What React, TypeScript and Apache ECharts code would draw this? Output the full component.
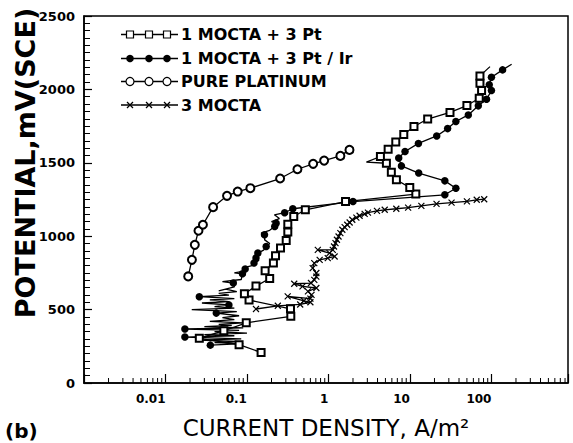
import React, { useEffect, useRef } from 'react';
import * as echarts from 'echarts';

// ---- Data (current density A/m², potential mV SCE) ----
const PT3_X = [0.149, 0.080, 0.026, 0.052, 0.098, 0.345, 0.342, 0.106, 0.093, 0.129, 0.19, 0.167, 0.211, 0.224, 0.258, 0.303, 0.317, 0.317, 0.375, 0.52, 1.62, 11.8, 9.95, 6.82, 5.91, 5.14, 2.92, 4.34, 5.4, 6.7, 8.4, 11.2, 16.5, 31, 50, 70.8, 75.7, 72.3, 72.3, 96];
const PT3_Y = [208, 261, 304, 356, 410, 454, 505, 565, 608, 660, 712, 765, 817, 867, 919, 971, 1028, 1082, 1134, 1180, 1236, 1287, 1332, 1384, 1436, 1497, 1504, 1543, 1593, 1641, 1692, 1747, 1798, 1843, 1890, 1940, 1992, 2042, 2092, 2155];
const PT3_TRACE_ONLY = [26, 39]; // points of the trace that carry no marker

const PTIR_X = [0.0355, 0.09, 0.04, 0.075, 0.025, 0.085, 0.0173, 0.07, 0.03, 0.1, 0.04, 0.08, 0.0173, 0.09, 0.03, 0.065, 0.045, 0.09, 0.035, 0.07, 0.05, 0.08, 0.042, 0.075, 0.021, 0.07, 0.04, 0.06, 0.028, 0.06, 0.035, 0.07, 0.026, 0.06, 0.045, 0.075, 0.055, 0.045, 0.07, 0.068, 0.05, 0.085, 0.088, 0.07, 0.1, 0.095, 0.09, 0.115, 0.122, 0.14, 0.129, 0.12, 0.136, 0.16, 0.172, 0.19, 0.165, 0.164, 0.149, 0.19, 0.219, 0.228, 0.2, 0.25, 0.217, 0.29, 0.365, 2.0, 26.8, 36.6, 26.8, 12.8, 7.86, 7.28, 8.7, 12.7, 21.3, 29, 36.6, 52, 69, 87, 100, 94, 100, 137, 177];
const PTIR_Y = [258, 268, 276, 284, 292, 300, 313, 322, 330, 340, 350, 358, 368, 376, 384, 392, 400, 410, 420, 432, 445, 458, 476, 486, 500, 510, 520, 532, 545, 555, 566, 575, 588, 598, 610, 622, 640, 628, 655, 681, 690, 705, 744, 750, 765, 776, 785, 800, 817, 835, 851, 860, 885, 905, 930, 950, 975, 1010, 1021, 1040, 1066, 1089, 1100, 1120, 1146, 1160, 1187, 1236, 1282, 1327, 1377, 1430, 1479, 1532, 1577, 1632, 1683, 1733, 1781, 1826, 1888, 1933, 1992, 2031, 2083, 2133, 2171];
const PTIR_DOT_IDX = [0, 6, 12, 22, 27, 32, 39, 42, 45, 48, 50, 52, 54, 57, 60, 61, 65, 66, 67, 68, 69, 70, 71, 72, 73, 74, 75, 76, 77, 78, 79, 80, 81, 82, 83, 84, 85];

const PURE_X = [0.019, 0.0211, 0.0229, 0.0254, 0.0288, 0.0384, 0.0569, 0.0769, 0.110, 0.255, 0.416, 0.649, 0.885, 1.40, 1.81];
const PURE_Y = [726, 839, 941, 1037, 1078, 1198, 1275, 1304, 1327, 1393, 1456, 1493, 1515, 1547, 1588];

const MOCTA3_X = [0.129, 0.239, 0.45, 0.60, 0.50, 0.316, 0.60, 0.62, 0.56, 0.71, 0.48, 0.38, 0.61, 0.67, 0.71, 0.71, 0.64, 0.67, 0.78, 0.98, 1.19, 1.03, 0.74, 1.13, 1.17, 1.22, 1.27, 1.33, 1.40, 1.48, 1.58, 1.70, 1.82, 1.96, 2.20, 2.41, 2.78, 3.05, 3.94, 4.9, 6.8, 9.5, 13.8, 21.2, 32.4, 50, 66, 81.5];
const MOCTA3_Y = [504, 526, 535, 550, 560, 590, 575, 600, 624, 647, 658, 676, 681, 703, 725, 749, 783, 817, 839, 851, 862, 885, 907, 907, 930, 953, 976, 998, 1021, 1044, 1062, 1078, 1093, 1112, 1127, 1139, 1152, 1161, 1173, 1180, 1187, 1195, 1207, 1220, 1229, 1237, 1248, 1252];

const LEGEND_LABELS = ['1 MOCTA + 3 Pt', '1 MOCTA + 3 Pt / Ir', 'PURE PLATINUM', '3 MOCTA'];
const X_TICK_LABELS = ['0.01', '0.1', '1', '10', '100'];
const X_TICK_EXP = [-2, -1, 0, 1, 2];
const X_MIN = 0.001;
const X_MAX = 870;
const Y_MIN = 0;
const Y_MAX = 2500;
const Y_STEP = 500;
const MINOR_MULTS = [2, 3, 4, 5, 6, 7, 8, 9];
const X_NAME = 'CURRENT DENSITY, A/m²';
const Y_NAME = 'POTENTIAL,mV(SCE)';
const PANEL = '(b)';

const FONT = 'DejaVu Sans';

export default function App() {
  const ref = useRef<HTMLDivElement>(null);
  useEffect(() => {
    if (!ref.current) return;
    const chart = echarts.init(ref.current, undefined, { renderer: 'svg' });

    // minor tick values of the log axis (2..9 in each decade)
    const minorVals: number[][] = [];
    for (let d = Math.floor(Math.log10(X_MIN)); d < Math.ceil(Math.log10(X_MAX)); d++) {
      for (const m of MINOR_MULTS) {
        const v = m * Math.pow(10, d);
        if (v > X_MIN && v < X_MAX) minorVals.push([v, Y_MIN]);
      }
    }

    const pt3Data = PT3_X.map((x, i) =>
      PT3_TRACE_ONLY.includes(i) ? { value: [x, PT3_Y[i]], symbol: 'none' } : [x, PT3_Y[i]]
    );
    const ptirData = PTIR_X.map((x, i) =>
      PTIR_DOT_IDX.includes(i) ? [x, PTIR_Y[i]] : { value: [x, PTIR_Y[i]], symbol: 'none' }
    );
    const pureData = PURE_X.map((x, i) => [x, PURE_Y[i]]);
    const m3Data = MOCTA3_X.map((x, i) => [x, MOCTA3_Y[i]]);

    // legend drawn as graphic: line + three markers + text
    const rows = [34.5, 58.5, 81.5, 105];
    const kinds = ['rect', 'dot', 'ring', 'cross'];
    const mx = [130, 149, 167];
    const marker = (kind: string, cx: number, cy: number): any => {
      if (kind === 'rect')
        return { type: 'rect', shape: { x: cx - 3.5, y: cy - 3.5, width: 7, height: 7 }, style: { fill: '#fff', stroke: '#000', lineWidth: 1.2 } };
      if (kind === 'dot') return { type: 'circle', shape: { cx, cy, r: 3.8 }, style: { fill: '#000' } };
      if (kind === 'ring')
        return { type: 'circle', shape: { cx, cy, r: 4 }, style: { fill: '#fff', stroke: '#000', lineWidth: 1.2 } };
      return {
        type: 'group',
        children: [
          { type: 'line', shape: { x1: cx - 3, y1: cy - 3, x2: cx + 3, y2: cy + 3 }, style: { stroke: '#000', lineWidth: 1.3 } },
          { type: 'line', shape: { x1: cx - 3, y1: cy + 3, x2: cx + 3, y2: cy - 3 }, style: { stroke: '#000', lineWidth: 1.3 } },
        ],
      };
    };
    const gEls: any[] = [];
    LEGEND_LABELS.forEach((label, i) => {
      const y = rows[i];
      gEls.push({ type: 'line', shape: { x1: 121, y1: y, x2: 178, y2: y }, style: { stroke: '#000', lineWidth: 1.3 } });
      mx.forEach((x) => gEls.push(marker(kinds[i], x, y)));
      gEls.push({
        type: 'text',
        x: 181,
        y,
        style: { text: label, fill: '#000', font: `bold 16px "${FONT}"`, verticalAlign: 'middle', align: 'left' },
      });
    });
    gEls.push({
      type: 'text',
      x: 5,
      y: 431,
      style: { text: PANEL, fill: '#000', font: `bold 20px "${FONT}"`, verticalAlign: 'middle', align: 'left' },
    });
    gEls.push({
      type: 'text',
      x: 25,
      y: 163,
      rotation: Math.PI / 2,
      style: { text: Y_NAME, fill: '#000', font: `bold 27px "${FONT}"`, verticalAlign: 'middle', align: 'center' },
    });

    const lineCommon = {
      type: 'line',
      showSymbol: true,
      lineStyle: { color: '#000', width: 1.3 },
      emphasis: { disabled: true },
    };

    chart.setOption({
      animation: false,
      backgroundColor: '#fff',
      textStyle: { fontFamily: FONT },
      grid: {
        left: 84,
        right: 5,
        top: 16,
        bottom: 60,
        show: true,
        borderColor: '#000',
        borderWidth: 1.5,
        containLabel: false,
        outerBoundsMode: 'none',
      },
      xAxis: {
        type: 'log',
        logBase: 10,
        min: X_MIN,
        max: X_MAX,
        interval: 1,
        position: 'bottom',
        name: X_NAME,
        nameLocation: 'middle',
        nameGap: 33,
        nameTextStyle: { fontSize: 23, fontFamily: FONT, color: '#000' },
        axisLine: { onZero: false, lineStyle: { color: '#000', width: 1.5 } },
        axisTick: { inside: true, length: 9, lineStyle: { color: '#000', width: 1.2 } },
        axisLabel: {
          color: '#000',
          fontSize: 12,
          fontWeight: 'bold',
          fontFamily: FONT,
          margin: 10,
          align: 'right',
          showMinLabel: true,
          showMaxLabel: true,
          formatter: (v: number) => {
            const e = Math.round(Math.log10(v));
            const k = X_TICK_EXP.indexOf(e);
            return k >= 0 ? X_TICK_LABELS[k] : '';
          },
        },
        splitLine: { show: false },
      },
      yAxis: {
        type: 'value',
        min: Y_MIN,
        max: Y_MAX,
        interval: Y_STEP,
        axisLine: { onZero: false, lineStyle: { color: '#000', width: 1.5 } },
        axisTick: { inside: true, length: 8, lineStyle: { color: '#000', width: 1.2 } },
        minorTick: { show: true, splitNumber: 10, length: 6, lineStyle: { color: '#000', width: 1 } },
        axisLabel: {
          color: '#000',
          fontSize: 13,
          fontWeight: 'bold',
          fontFamily: FONT,
          margin: 9,
          formatter: (v: number) => String(v),
        },
        splitLine: { show: false },
        minorSplitLine: { show: false },
      },
      graphic: gEls,
      series: [
        {
          type: 'custom',
          name: 'minor ticks',
          data: minorVals,
          encode: { x: 0, y: 1 },
          clip: false,
          silent: true,
          renderItem: (_p: any, api: any) => {
            const c = api.coord([api.value(0), api.value(1)]);
            return {
              type: 'line',
              shape: { x1: c[0], y1: c[1], x2: c[0], y2: c[1] - 5 },
              style: { stroke: '#000', lineWidth: 1 },
            };
          },
        },
        {
          ...lineCommon,
          name: LEGEND_LABELS[3],
          data: m3Data,
          symbol: 'path://M0,0L10,10M10,0L0,10',
          symbolSize: 6,
          itemStyle: { color: '#000', borderColor: '#000', borderWidth: 1.2 },
        },
        {
          ...lineCommon,
          name: LEGEND_LABELS[2],
          data: pureData,
          symbol: 'emptyCircle',
          symbolSize: 8,
          itemStyle: { color: '#000', borderColor: '#000', borderWidth: 1.2 },
        },
        {
          ...lineCommon,
          name: LEGEND_LABELS[1],
          data: ptirData,
          symbol: 'circle',
          symbolSize: 7.5,
          itemStyle: { color: '#000' },
        },
        {
          ...lineCommon,
          name: LEGEND_LABELS[0],
          data: pt3Data,
          symbol: 'emptyRect',
          symbolSize: 7,
          itemStyle: { color: '#000', borderColor: '#000', borderWidth: 1.2 },
        },
      ],
    });
    return () => chart.dispose();
  }, []);

  return (
    <div
      ref={ref}
      style={{ position: 'fixed', left: 0, top: 0, width: 573, height: 443, background: '#fff' }}
    />
  );
}
